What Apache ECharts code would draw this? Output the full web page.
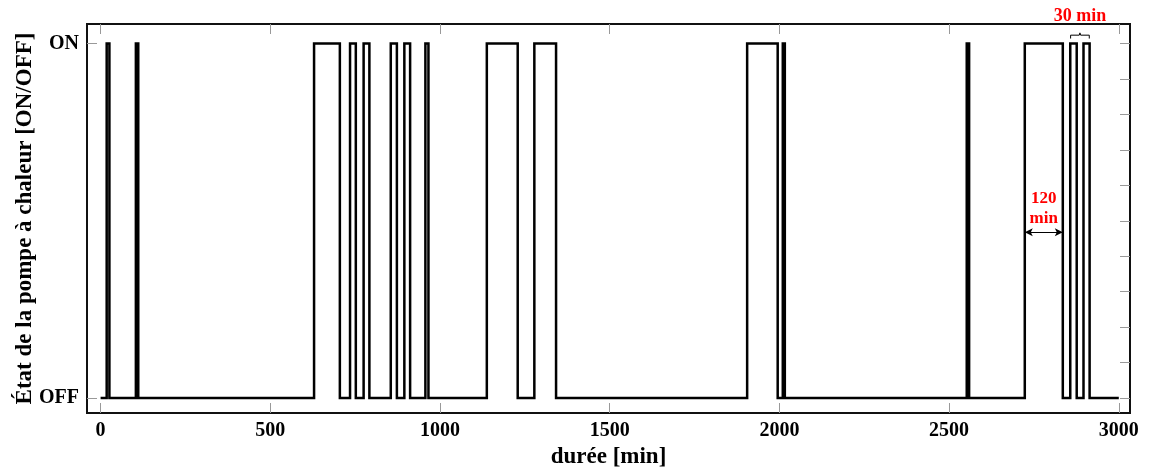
<!DOCTYPE html>
<html>
<head>
<meta charset="utf-8">
<script src="https://cdn.jsdelivr.net/npm/echarts@6/dist/echarts.min.js"></script>
<style>
html,body{margin:0;padding:0;background:#fff;}
#chart{width:1150px;height:470px;}
</style>
</head>
<body>
<div id="chart"></div>
<script>
// ---- data (minutes) ----
const onStart = [18, 104, 629, 735, 775, 855, 895, 957, 1138, 1278, 1905, 2010, 2552, 2723, 2857, 2896];
const onEnd   = [26, 111, 705, 752, 792, 873, 912, 966, 1229, 1342, 1995, 2016, 2559, 2835, 2876, 2914];
const tStart = 0;
const tEnd = 3000;
const xTicks = [0, 500, 1000, 1500, 2000, 2500, 3000];
const yTicksLeft = [0, 1];
const yTickNames = ['OFF', 'ON'];
const yTicksRight = [0, 0.1, 0.2, 0.3, 0.4, 0.5, 0.6, 0.7, 0.8, 0.9, 1];

// annotations (data coords)
const arrowSpan = [2723, 2835];
const arrowLevel = 0.468;
const bracketSpan = [2858, 2913];

// build step points
const pts = [[tStart, 0]];
for (let i = 0; i < onStart.length; i++) {
  pts.push([onStart[i], 0], [onStart[i], 1], [onEnd[i], 1], [onEnd[i], 0]);
}
pts.push([tEnd, 0]);

const bMid = (bracketSpan[0] + bracketSpan[1]) / 2;
const bracketPts = [
  [bracketSpan[0], 1.014], [bracketSpan[0], 1.0235], [bMid - 2, 1.0235], [bMid, 1.030],
  [bMid + 2, 1.0235], [bracketSpan[1], 1.0235], [bracketSpan[1], 1.014]
];

const FONT = '"Liberation Serif", "Times New Roman", serif';
const tickStyle = {show: true, inside: true, length: 10, lineStyle: {color: '#999', width: 1}};
const noLine = {show: false, onZero: false};

const chart = echarts.init(document.getElementById('chart'));
chart.setOption({
  animation: false,
  backgroundColor: '#fff',
  grid: {left: 87, right: 20, top: 24, bottom: 57, show: true, borderColor: '#111', borderWidth: 2,
    containLabel: false, outerBoundsMode: 'none'},
  xAxis: [{
    type: 'value', min: -40, max: 3033, position: 'bottom',
    axisLine: noLine, splitLine: {show: false},
    axisTick: Object.assign({customValues: xTicks}, tickStyle),
    axisLabel: {customValues: xTicks, margin: 8, formatter: v => String(v), fontFamily: FONT, fontWeight: 'bold', fontSize: 20, color: '#000'},
    name: 'durée [min]', nameLocation: 'middle', nameGap: 33,
    nameTextStyle: {fontFamily: FONT, fontWeight: 'bold', fontSize: 23, color: '#000'}
  }, {
    type: 'value', min: -40, max: 3033, position: 'top',
    axisLine: noLine, splitLine: {show: false},
    axisTick: Object.assign({customValues: xTicks}, tickStyle),
    axisLabel: {show: false}
  }],
  yAxis: [{
    type: 'value', min: -0.042, max: 1.055, position: 'left',
    axisLine: noLine, splitLine: {show: false},
    axisTick: Object.assign({customValues: yTicksLeft}, tickStyle),
    axisLabel: {customValues: yTicksLeft, margin: 8, formatter: v => yTickNames[yTicksLeft.indexOf(v)] || '',
      fontFamily: FONT, fontWeight: 'bold', fontSize: 20, color: '#000'},
    name: 'État de la pompe à chaleur [ON/OFF]', nameLocation: 'middle', nameGap: 50, nameMoveOverlap: false,
    nameTextStyle: {fontFamily: FONT, fontWeight: 'bold', fontSize: 23, color: '#000'}
  }, {
    type: 'value', min: -0.042, max: 1.055, position: 'right',
    axisLine: noLine, splitLine: {show: false},
    axisTick: Object.assign({customValues: yTicksRight}, tickStyle),
    axisLabel: {show: false}
  }],
  series: [{
    type: 'line', data: pts, symbol: 'none', clip: false,
    lineStyle: {color: '#000', width: 2.5, join: 'miter'},
    markLine: {
      silent: true, symbol: ['arrow', 'arrow'], symbolSize: [6, 8],
      lineStyle: {color: '#000', width: 1.2, type: 'solid'},
      label: {show: true, position: 'middle', formatter: '120\nmin', color: '#ff0000',
        fontFamily: FONT, fontWeight: 'bold', fontSize: 17, lineHeight: 20, distance: 4},
      data: [[{coord: [arrowSpan[0], arrowLevel]}, {coord: [arrowSpan[1], arrowLevel]}]]
    }
  }, {
    type: 'line', data: bracketPts, symbol: 'none', clip: false,
    lineStyle: {color: '#000', width: 1}
  }]
});

const p = chart.convertToPixel({gridIndex: 0}, [bMid, 1.0235]);
chart.setOption({
  graphic: [{
    type: 'text', x: p[0], y: p[1] - 19,
    style: {text: '30 min', fill: '#ff0000', font: 'bold 18px ' + FONT, align: 'center', verticalAlign: 'middle'}
  }]
});
</script>
</body>
</html>
